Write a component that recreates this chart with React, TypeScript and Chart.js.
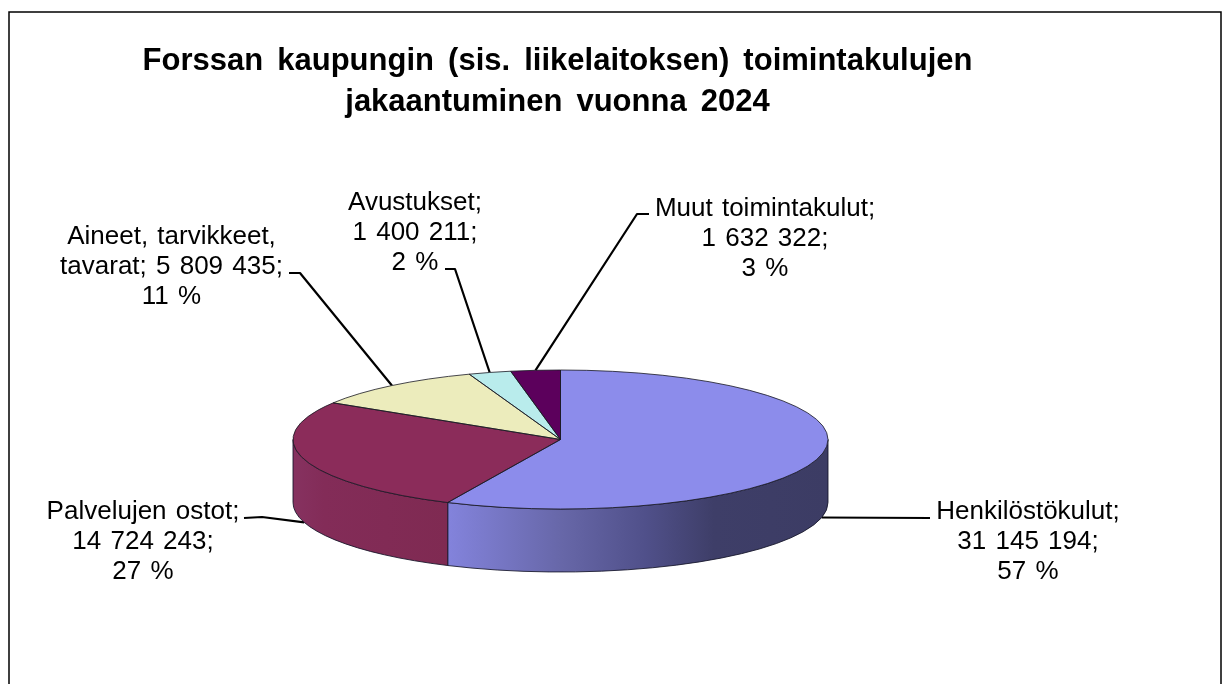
import React, { useEffect, useRef } from "react";
import { Chart, registerables } from "chart.js";

Chart.register(...registerables);

const titleLines = [
  "Forssan kaupungin (sis. liikelaitoksen) toimintakulujen",
  "jakaantuminen vuonna 2024",
];
const categories = [
  "Henkilöstökulut",
  "Palvelujen ostot",
  "Aineet, tarvikkeet, tavarat",
  "Avustukset",
  "Muut toimintakulut",
];
const amounts = [31145194, 14724243, 5809435, 1400211, 1632322];
const percents = [57, 27, 11, 2, 3];

const topColors = ["#8C8CEB", "#8B2C5A", "#ECECBC", "#B9ECEC", "#5C005C"];

// Presentation layout (not data)
const CX = 560.5;
const CY = 439.5;
const RX = 267.5;
const RY = 69.5;
const DEPTH = 63;
const FONT = '"Liberation Sans", Arial, sans-serif';
const LABEL_FONT_SIZE = 26;
const LABEL_LINE_HEIGHT = 30;

const labelLayout = [
  { x: 1028, y: 519, leader: [[930, 518]], front: true },
  { x: 143, y: 519, leader: [[244, 518], [262, 517]], front: true },
  { x: 171.5, y: 244, leader: [[289, 273], [300, 273]], front: false },
  { x: 415, y: 210, leader: [[445, 269], [455, 269]], front: false },
  { x: 765, y: 216, leader: [[649, 214], [637, 214]], front: false },
];

const wallStops: [number, string][][] = [
  [[0, "#8383DC"], [0.3, "#6767A8"], [0.52, "#50508A"], [0.7, "#3E3E68"], [1, "#3C3C64"]],
  [[0, "#863260"], [0.2, "#832C58"], [1, "#7F2A52"]],
];

const fmt = (n: number) => String(n).replace(/\B(?=(\d{3})+(?!\d))/g, " ");

function labelLines(i: number): string[] {
  const val = `${fmt(amounts[i])};`;
  const pct = `${percents[i]} %`;
  const cat = categories[i];
  if (cat.startsWith("Aineet")) {
    const cut = cat.lastIndexOf(" ");
    return [cat.slice(0, cut), `${cat.slice(cut + 1)}; ${val}`, pct];
  }
  return [`${cat};`, val, pct];
}

const pie3d = {
  id: "pie3d",
  beforeDraw(chart: any) {
    chart.ctx.save();
    (chart.ctx as any).wordSpacing = "5.5px";
  },
  beforeDatasetsDraw(chart: any) {
    const ctx = chart.ctx;
    (ctx as any).wordSpacing = "0px";
    const arcs = chart.getDatasetMeta(0).data;

    // frame
    ctx.save();
    ctx.strokeStyle = "#000";
    ctx.lineWidth = 1.5;
    ctx.beginPath();
    ctx.moveTo(9, 684);
    ctx.lineTo(9, 12);
    ctx.lineTo(1221, 12);
    ctx.lineTo(1221, 684);
    ctx.stroke();
    ctx.restore();

    // leaders
    ctx.save();
    ctx.strokeStyle = "#000";
    ctx.lineWidth = 2.2;
    ctx.lineJoin = "round";
    arcs.forEach((arc: any, i: number) => {
      const p = arc.getProps(["startAngle", "endAngle"], true);
      const mid = (p.startAngle + p.endAngle) / 2;
      const l = labelLayout[i];
      ctx.beginPath();
      l.leader.forEach(([x, y], k) => (k ? ctx.lineTo(x, y) : ctx.moveTo(x, y)));
      ctx.lineTo(
        CX + RX * Math.cos(mid),
        CY + RY * Math.sin(mid) + (l.front ? DEPTH : 0)
      );
      ctx.stroke();
    });
    ctx.restore();

    // side walls
    arcs.forEach((arc: any, i: number) => {
      const p = arc.getProps(["startAngle", "endAngle"], true);
      const s = Math.max(p.startAngle, 0);
      const e = Math.min(p.endAngle, Math.PI);
      if (e <= s) return;
      const x0 = CX + RX * Math.cos(e);
      const x1 = CX + RX * Math.cos(s);
      const g = ctx.createLinearGradient(x0, 0, x1, 0);
      (wallStops[i] || [[0, topColors[i]], [1, topColors[i]]]).forEach(([o, c]: any) =>
        g.addColorStop(o, c)
      );
      ctx.beginPath();
      ctx.ellipse(CX, CY, RX, RY, 0, s, e, false);
      ctx.ellipse(CX, CY + DEPTH, RX, RY, 0, e, s, true);
      ctx.closePath();
      ctx.fillStyle = g;
      ctx.fill();
      ctx.strokeStyle = "rgba(20,20,40,0.85)";
      ctx.lineWidth = 1;
      ctx.stroke();
    });

    // squash the pie into an ellipse
    ctx.save();
    const a0 = arcs[0];
    ctx.translate(CX, CY);
    ctx.scale(1, RY / RX);
    ctx.translate(-a0.x, -a0.y);
  },
  afterDatasetsDraw(chart: any) {
    const ctx = chart.ctx;
    ctx.restore();
    const arcs = chart.getDatasetMeta(0).data;

    // slice outlines
    ctx.save();
    ctx.strokeStyle = "rgba(25,25,35,0.8)";
    ctx.lineWidth = 1;
    ctx.lineJoin = "round";
    arcs.forEach((arc: any) => {
      const p = arc.getProps(["startAngle", "endAngle"], true);
      ctx.beginPath();
      ctx.moveTo(CX, CY);
      ctx.ellipse(CX, CY, RX, RY, 0, p.startAngle, p.endAngle, false);
      ctx.closePath();
      ctx.stroke();
    });
    ctx.restore();

    // data labels
    ctx.save();
    ctx.fillStyle = "#000";
    ctx.font = `${LABEL_FONT_SIZE}px ${FONT}`;
    (ctx as any).wordSpacing = "2px";
    ctx.textAlign = "center";
    ctx.textBaseline = "alphabetic";
    categories.forEach((_, i) => {
      const l = labelLayout[i];
      labelLines(i).forEach((t, k) => ctx.fillText(t, l.x, l.y + k * LABEL_LINE_HEIGHT));
    });
    ctx.restore();
  },
  afterDraw(chart: any) {
    chart.ctx.restore();
  },
};

export default function App() {
  const ref = useRef<HTMLCanvasElement | null>(null);
  useEffect(() => {
    document.body.style.margin = "0";
    document.body.style.overflow = "hidden";
    const chart = new Chart(ref.current!, {
      type: "pie",
      data: {
        labels: categories,
        datasets: [
          {
            data: amounts,
            backgroundColor: topColors,
            borderWidth: 0,
            radius: RX,
            clip: false,
          } as any,
        ],
      },
      options: {
        responsive: false,
        animation: false,
        events: [],
        layout: { padding: { left: 0, right: 110, top: 0, bottom: 0 } },
        plugins: {
          legend: { display: false },
          tooltip: { enabled: false },
          title: {
            display: true,
            text: titleLines,
            color: "#000",
            font: { family: FONT, size: 31, weight: "bold", lineHeight: 1.32 },
            padding: { top: 41, bottom: 0 },
          },
        },
      },
      plugins: [pie3d],
    });
    return () => chart.destroy();
  }, []);
  return (
    <div style={{ width: 1225, height: 684, background: "#fff" }}>
      <canvas ref={ref} width={1225} height={684} style={{ display: "block" }} />
    </div>
  );
}
